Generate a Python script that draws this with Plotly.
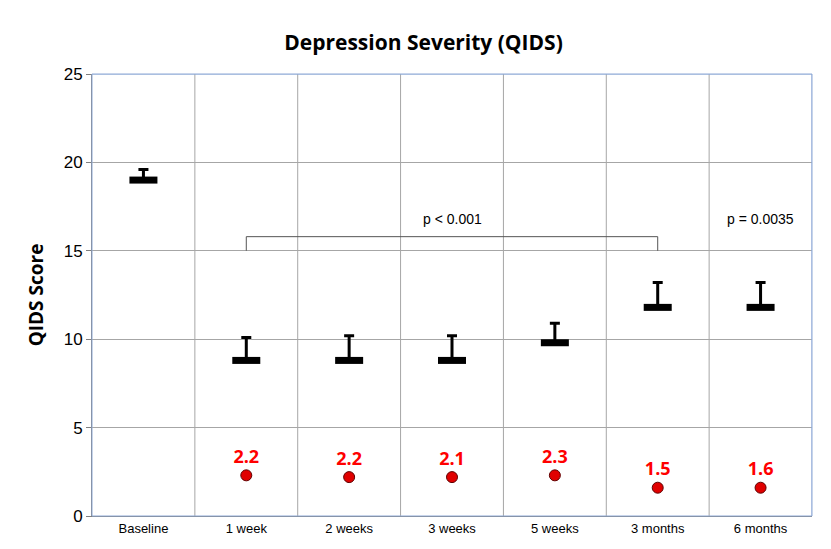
import plotly.graph_objects as go

cats = ["Baseline","1 week","2 weeks","3 weeks","5 weeks","3 months","6 months"]
means = [19.0, 8.8, 8.8, 8.8, 9.8, 11.8, 11.8]
err_up = [0.6, 1.3, 1.4, 1.4, 1.1, 1.4, 1.4]
dot_y = [2.3, 2.2, 2.2, 2.3, 1.6, 1.6]
dot_lbl = ["2.2","2.2","2.1","2.3","1.5","1.6"]

xi = list(range(len(cats)))
fig = go.Figure()
fig.add_trace(go.Scatter(x=xi, y=means, mode="markers",
    marker=dict(symbol="line-ew", size=20, line=dict(width=7, color="black")),
    error_y=dict(type="data", array=err_up, arrayminus=[0]*7, color="black", thickness=3, width=5),
    showlegend=False))
fig.add_trace(go.Scatter(x=xi[1:], y=dot_y, mode="markers+text", text=["<b>%s</b>" % t for t in dot_lbl],
    textposition="top center",
    textfont=dict(color="#ff0000", size=18, family="Open Sans"),
    marker=dict(color="#e00000", size=11, line=dict(color="#600000", width=1)), showlegend=False))

shapes = []
for b in range(1, 7):
    shapes.append(dict(type="line", xref="x", yref="y", x0=b-0.5, x1=b-0.5, y0=0, y1=25,
                       line=dict(color="#a6a6a6", width=1), layer="below"))
shapes.append(dict(type="path", xref="x", yref="y", path="M 1,15 L 1,15.8 L 5,15.8 L 5,15",
                   line=dict(color="#555", width=1)))
shapes.append(dict(type="path", xref="x", yref="y", path="M -0.5,25 L 6.5,25 L 6.5,0",
                   line=dict(color="#8ea9d6", width=1)))
shapes.append(dict(type="rect", xref="paper", yref="paper", x0=0, x1=1, y0=0, y1=1,
                   line=dict(color="#8ea9d6", width=1)))
fig.update_layout(
    width=831, height=549, margin=dict(l=84, r=27, t=66, b=41),
    paper_bgcolor="white", plot_bgcolor="white",
    font=dict(family="Liberation Sans", color="black"),
    title=dict(text="<b>Depression Severity (QIDS)</b>", x=0.5, xanchor="center", y=0.95,
               font=dict(size=21, family="Open Sans")),
    xaxis=dict(range=[-0.5, 6.5], tickvals=xi, ticktext=cats, showgrid=False, zeroline=False,
               showline=True, linecolor="#7f7f7f", ticks="", tickfont=dict(size=13)),
    yaxis=dict(range=[0, 25], dtick=5, showgrid=True, gridcolor="#a6a6a6", zeroline=False,
               showline=True, linecolor="#7f7f7f", ticks="outside", ticklen=5, tickcolor="#7f7f7f",
               tickfont=dict(size=17),
               title=dict(text="<b>QIDS Score</b>", font=dict(size=19, family="Open Sans"))),
    shapes=shapes,
    annotations=[
        dict(x=3, y=16.8, xref="x", yref="y", text="p < 0.001", showarrow=False, font=dict(size=14)),
        dict(x=6, y=16.8, xref="x", yref="y", text="p = 0.0035", showarrow=False, font=dict(size=14)),
    ])
fig.write_html("out.html")
